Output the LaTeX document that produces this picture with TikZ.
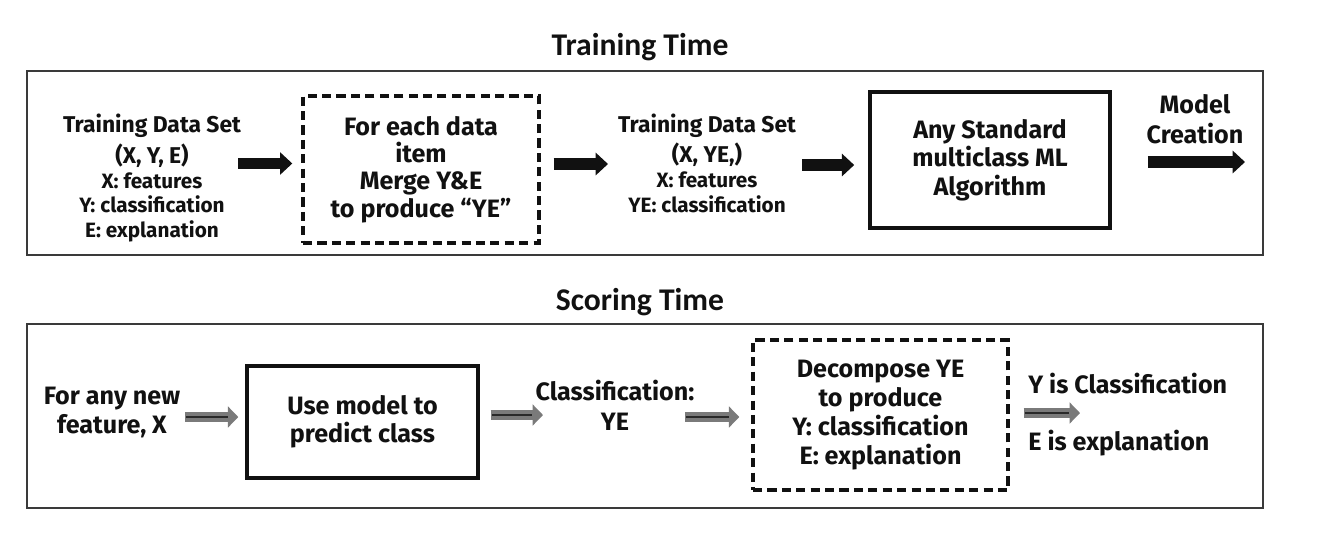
\documentclass[tikz,border=0pt]{standalone}
\usepackage{fontspec}
\setmainfont{Fira Sans}
\newfontfamily\titlefont{Carlito}
\usetikzlibrary{arrows.meta,calc}
\definecolor{ink}{HTML}{111111}
\definecolor{frame}{HTML}{3A3A3A}
\definecolor{arrgray}{HTML}{7A7A7A}
\newcommand{\smf}{\fontsize{11.8}{14}\selectfont}
\begin{document}
\begin{tikzpicture}[x=0.02cm,y=-0.02cm,
  every node/.style={text=ink},
  ttl/.style={font=\titlefont\bfseries\fontsize{18}{21}\selectfont, anchor=base},
  outerbox/.style={draw=frame, line width=0.85pt, minimum width=24.72cm, minimum height=3.68cm, inner sep=0},
  solidbox/.style={draw=ink, line width=2pt, align=center, inner sep=0},
  dashbox/.style={draw=ink, line width=2pt, dash pattern=on 5.2pt off 3pt, align=center, inner sep=0},
  lbl/.style={align=center, inner sep=0},
  big/.style={font=\bfseries\fontsize{14.3}{#1}\selectfont},
  mid/.style={font=\bfseries\fontsize{13}{#1}\selectfont},
  blk/.style={draw=ink, line width=6.5pt, -{Triangle[width=12.5pt,length=7pt]}},
  garrow/.style={draw=arrgray, line width=5.3pt, -{Triangle[width=11.8pt,length=5.9pt]},
     postaction={draw=ink!90, line width=1.6pt, -, shorten >=6pt, shorten <=0.8pt}}
]
\useasboundingbox[fill=white] (0,0) rectangle (1318,548);

% ---------- Training time ----------
\node[ttl] (ttrain) at (640,55) {Training Time};
\node[outerbox] (ob1) at (645,163) {};

\node[lbl, mid=17.6pt] (t1) at (152,178)
  {Training Data Set\\(X, Y, E)\\[-3.6pt]\smf X: features\\[-3.6pt]\smf Y: classification\\[-3.6pt]\smf E: explanation};
\node[dashbox, big=15.6pt, minimum width=4.72cm, minimum height=2.94cm] (d1) at (421,169.5)
  {For each data\\item\\Merge Y\&E\\to produce “YE”};
\node[lbl, mid=17.6pt] (t2) at (707,163)
  {Training Data Set\\(X, YE,)\\[-3.6pt]\smf X: features\\[-3.6pt]\smf YE: classification};
\node[solidbox, big=16.2pt, minimum width=4.8cm, minimum height=2.72cm] (s1) at (990,160)
  {Any Standard\\multiclass ML\\Algorithm};
\node[lbl, big=17pt] (mc) at (1195,119.5) {Model\\Creation};

\coordinate (a1) at (238,163.5);
\coordinate (a2) at (608,164);
\coordinate (a3) at (802,165);
\coordinate (a4) at (1245,162);
\draw[blk, shorten >=5.1pt] (a1) -- (a1 -| d1.west);
\draw[blk, shorten <=7.4pt] (d1.east |- a2) -- (a2);
\draw[blk, shorten >=8pt] (a3) -- (a3 -| s1.west);
\draw[blk, shorten <=20.5pt] (s1.east |- a4) -- (a4);

% ---------- Scoring time ----------
\node[ttl] (tscore) at (640,310) {Scoring Time};
\node[outerbox] (ob2) at (645,416) {};

\node[lbl, big=16.5pt] (f1) at (112,413) {For any new\\feature, X};
\node[solidbox, big=16pt, minimum width=4.62cm, minimum height=2.25cm] (s2) at (362.5,422)
  {Use model to\\predict class};
\node[lbl, big=17pt] (c1) at (615,405) {Classification:\\YE};
\node[dashbox, big=16.5pt, minimum width=5.1cm, minimum height=3cm] (d2) at (880.5,415)
  {Decompose YE\\to produce\\Y: classification\\E: explanation};
\node[inner sep=0, anchor=base west, big=15pt] (y1) at (1028,393) {Y is Classification};
\node[inner sep=0, anchor=base west, big=15pt] (e1) at (1028,450) {E is explanation};

\coordinate (a5) at (185,417);
\coordinate (a6) at (543,415);
\coordinate (a7) at (685,417);
\coordinate (a8) at (1080,413);
\draw[garrow] (a5) -- ($(a5 -| s2.west)+(-7,0)$);
\draw[garrow] ($(s2.east |- a6)+(11,0)$) -- (a6);
\draw[garrow] (a7) -- ($(a7 -| d2.west)+(-12,0)$);
\draw[garrow] ($(d2.east |- a8)+(14,0)$) -- (a8);
\end{tikzpicture}
\end{document}
